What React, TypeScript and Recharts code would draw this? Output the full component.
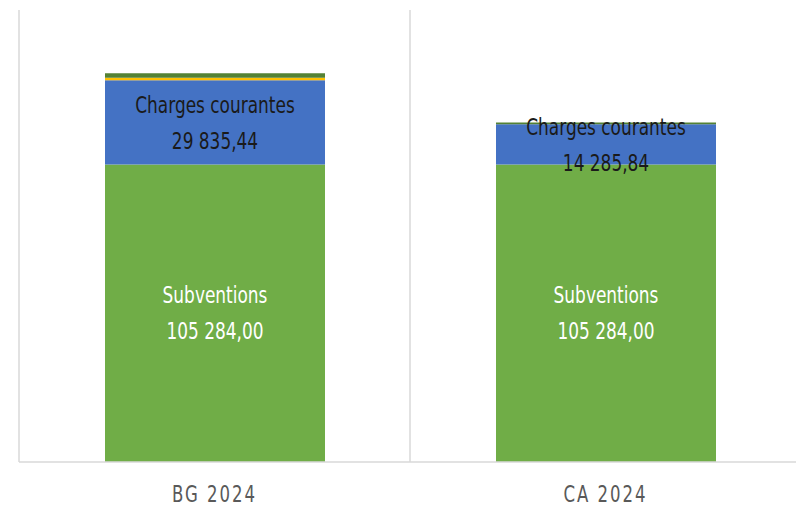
import { BarChart, Bar, XAxis, YAxis, CartesianGrid, LabelList } from "recharts";

const categories = ["BG 2024", "CA 2024"];
const subventions = [105284, 105284];
const chargesCourantes = [29835.44, 14285.84];
const autresCharges = [900, 0];
const chargesExceptionnelles = [1550, 600];

const data = categories.map((name, i) => ({
  name,
  subventions: subventions[i],
  charges: chargesCourantes[i],
  autres: autresCharges[i],
  exceptionnelles: chargesExceptionnelles[i],
}));

const FONT = "'Liberation Sans Narrow', 'DejaVu Sans Condensed', 'Arial Narrow', sans-serif";

function formatFr(v: number) {
  const [int, dec] = v.toFixed(2).split(".");
  return int.replace(/\B(?=(\d{3})+(?!\d))/g, " ") + "," + dec;
}

function makeLabel(title: string, color: string) {
  return (props: any) => {
    const { x, y, width, height, value } = props;
    const cx = x + width / 2;
    const cy = y + height / 2;
    return (
      <g transform={`translate(${cx},${cy}) scale(0.82,1)`}>
        <text textAnchor="middle" fontFamily={FONT} fontSize={23} fill={color}>
          <tspan x={0} y={-18} dominantBaseline="central">{title}</tspan>
          <tspan x={0} y={18} dominantBaseline="central">{formatFr(value)}</tspan>
        </text>
      </g>
    );
  };
}

function CategoryTick(props: any) {
  const { x, y, payload } = props;
  return (
    <g transform={`translate(${x},${y + 32}) scale(0.8,1)`}>
      <text x={0} y={0} textAnchor="middle" fontFamily={FONT} fontSize={23} fill="#595959" letterSpacing={2.5}>
        {payload.value}
      </text>
    </g>
  );
}

export default function App() {
  return (
    <div style={{ position: "absolute", left: 0, top: 0, width: 796, height: 509, overflow: "hidden", background: "#fff" }}>
      <BarChart width={801} height={509} data={data} margin={{ top: 10, right: 0, bottom: 0, left: 19 }} barSize={220}>
        <CartesianGrid
          horizontal={false}
          stroke="#d9d9d9"
          strokeWidth={1.5}
          verticalCoordinatesGenerator={({ offset }: any) => [
            offset.left,
            offset.left + offset.width / 2,
            offset.left + offset.width,
          ]}
        />
        <YAxis hide domain={[0, 160000]} />
        <XAxis dataKey="name" height={47} tickLine={false} axisLine={{ stroke: "#d9d9d9", strokeWidth: 1.5 }} tick={<CategoryTick />} />
        <Bar dataKey="subventions" stackId="a" fill="#70AD47" isAnimationActive={false}>
          <LabelList dataKey="subventions" content={makeLabel("Subventions", "#ffffff")} />
        </Bar>
        <Bar dataKey="charges" stackId="a" fill="#4472C4" isAnimationActive={false}>
          <LabelList dataKey="charges" content={makeLabel("Charges courantes", "#1a1a1a")} />
        </Bar>
        <Bar dataKey="autres" stackId="a" fill="#FFC000" isAnimationActive={false} />
        <Bar dataKey="exceptionnelles" stackId="a" fill="#548235" isAnimationActive={false} />
      </BarChart>
    </div>
  );
}
